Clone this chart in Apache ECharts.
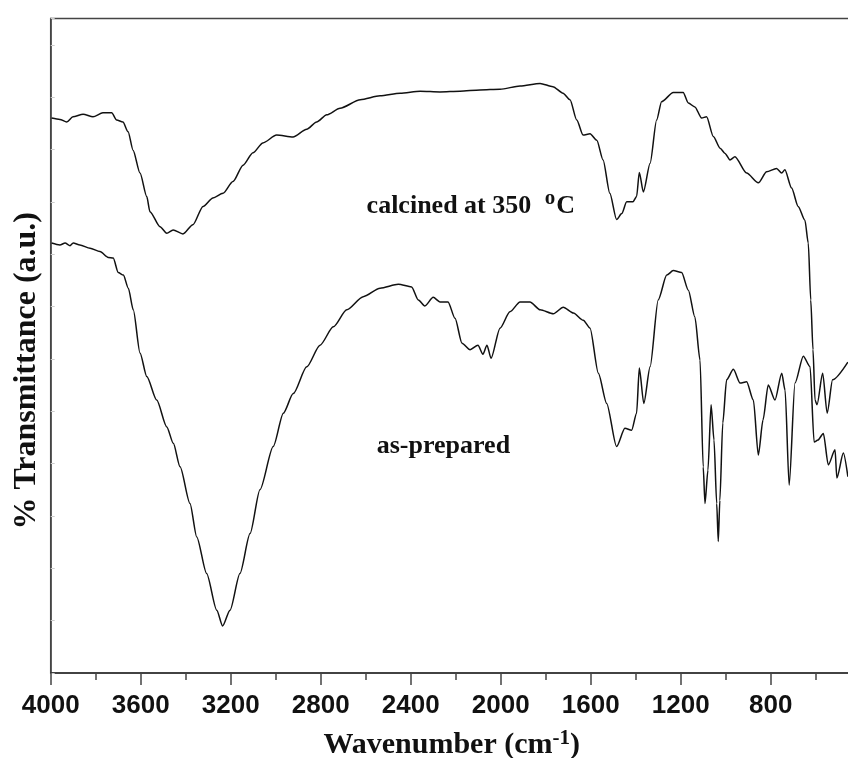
<!DOCTYPE html>
<html>
<head>
<meta charset="utf-8">
<script src="https://cdn.jsdelivr.net/npm/echarts@6/dist/echarts.min.js"></script>
<style>html,body{margin:0;padding:0;background:#fff}#c{width:848px;height:758px}</style>
</head>
<body>
<div id="c"></div>
<script>
// X axis: wavenumber (cm-1), reversed
const xTickValues = [4000, 3600, 3200, 2800, 2400, 2000, 1600, 1200, 800];

// Calcined at 350 °C (upper trace)
const calcinedWn = [3996,3959,3929,3901,3856,3812,3768,3729,3707,3679,3656,3634,3603,3573,3559,3514,3484,3456,3412,3368,3323,3279,3234,3190,3145,3101,3057,2996,2923,2862,2818,2773,2714,2624,2536,2447,2358,2270,2181,2092,2003,1914,1825,1768,1723,1692,1662,1634,1603,1573,1545,1515,1485,1462,1440,1412,1396,1384,1366,1336,1307,1285,1233,1189,1166,1137,1107,1085,1055,1025,1003,981,959,907,855,818,774,751,737,707,678,648,633,622,612,603,594,569,549,525,457];
const calcinedT = [84.8,84.6,84.2,85.0,85.4,85.0,85.6,85.6,84.5,84.2,82.7,79.9,76.4,72.8,70.5,68.2,67.2,67.7,67.1,68.5,71.3,72.6,73.3,75.1,77.6,79.5,81.0,82.2,81.9,83.1,84.2,85.3,86.3,87.6,88.2,88.6,88.9,88.8,88.9,89.1,89.2,89.7,90.1,89.6,88.6,87.6,84.5,82.2,82.4,81.4,78.4,73.3,69.3,70.2,72.0,72.0,72.8,76.5,73.5,77.9,84.5,87.3,88.7,88.7,87.1,86.5,84.8,85.0,82.0,80.2,79.4,78.4,78.9,76.4,74.9,76.6,77.1,76.4,76.9,74.1,71.3,69.2,65.7,57.0,49.4,41.7,41.0,45.8,39.7,44.8,47.5];

// As-prepared (lower trace)
const preparedWn = [3996,3959,3936,3914,3900,3870,3825,3781,3744,3722,3700,3677,3655,3633,3603,3573,3529,3484,3455,3425,3381,3351,3307,3262,3236,3203,3159,3114,3070,3011,2966,2922,2862,2803,2744,2684,2611,2536,2455,2396,2366,2337,2300,2270,2234,2203,2172,2136,2101,2079,2061,2043,2003,1959,1914,1870,1825,1766,1722,1677,1633,1603,1566,1529,1485,1448,1418,1396,1384,1364,1336,1300,1262,1233,1196,1166,1137,1114,1100,1092,1079,1065,1052,1040,1033,1026,1013,996,966,936,907,877,855,834,811,781,751,736,718,692,655,625,607,590,566,544,514,506,477,457];
const preparedT = [65.7,65.4,65.7,65.3,65.7,65.4,64.9,64.4,63.5,63.4,61.2,60.8,58.8,55.5,48.9,45.3,41.7,37.6,35.1,31.5,25.9,20.8,15.2,9.6,7.2,9.6,15.2,21.3,28.0,34.6,39.7,42.7,46.8,50.1,52.9,55.5,57.5,58.8,59.4,59.0,57.0,56.1,57.4,56.7,56.7,54.2,50.4,49.4,50.1,48.7,50.1,48.1,52.7,55.2,56.7,56.7,55.5,54.9,55.9,55.0,53.9,52.7,45.8,41.2,34.6,37.4,37.1,39.7,46.6,41.2,46.8,57.0,60.8,61.5,61.2,58.5,54.4,47.8,31.5,25.9,31.0,41.0,35.6,25.9,20.1,26.4,38.2,44.8,46.4,44.3,44.5,41.7,33.3,38.7,44.0,41.7,45.8,43.2,28.7,44.3,48.4,46.8,35.3,35.6,36.6,31.8,34.1,29.8,33.6,30.0];

// Annotation anchors (data coords: wavenumber, transmittance) — left/middle of text
const calcinedLabelAt = [2596, 71.3];
const preparedLabelAt = [2551, 34.7];

const pairs = (xs, ys) => xs.map((x, i) => [x, ys[i]]);

const chart = echarts.init(document.getElementById('c'));
const lineColor = '#111';
chart.setOption({
  animation: false,
  backgroundColor: '#fff',
  grid: { left: 50.7, top: 18.6, width: 810, height: 654.4, outerBoundsMode: 'none', containLabel: false,
          show: true, borderColor: '#444', borderWidth: 1.5 },
  xAxis: {
    type: 'value', min: 400, max: 4000, interval: 400, inverse: true,
    axisLine: { show: true, onZero: false, lineStyle: { color: '#333', width: 1.5 } },
    axisTick: { show: true, inside: false, length: 12, lineStyle: { color: '#444', width: 1.5 } },
    minorTick: { show: true, splitNumber: 2, length: 7, lineStyle: { color: '#444', width: 1.5 } },
    splitLine: { show: false },
    axisLabel: {
      margin: 20, fontFamily: 'Liberation Sans', fontWeight: 'bold', fontSize: 26, color: '#111',
      formatter: v => xTickValues.indexOf(v) >= 0 ? String(v) : ''
    },
    name: '{a|Wavenumber (cm}{b|-1}{a|)}',
    nameLocation: 'middle', nameGap: 55,
    nameTextStyle: {
      padding: [0, 8, 0, 0],
      rich: {
        a: { fontFamily: 'Liberation Serif', fontWeight: 'bold', fontSize: 30, lineHeight: 34, color: '#111' },
        b: { fontFamily: 'Liberation Serif', fontWeight: 'bold', fontSize: 21, lineHeight: 15, verticalAlign: 'top', color: '#111' }
      }
    }
  },
  yAxis: {
    type: 'value', min: 0, max: 100, interval: 8,
    axisLine: { show: true, lineStyle: { color: '#444', width: 1.5 } },
    axisTick: { show: true, inside: true, length: 4, lineStyle: { color: '#ccc', width: 1 } },
    axisLabel: { show: false },
    splitLine: { show: false },
    name: '% Transmittance (a.u.)',
    nameLocation: 'middle', nameGap: 8,
    nameTextStyle: { fontFamily: 'Liberation Serif', fontWeight: 'bold', fontSize: 32, color: '#111', padding: [0, 50, 0, 0] }
  },
  series: [
    { type: 'line', data: pairs(calcinedWn, calcinedT), showSymbol: false, smooth: 0.25, smoothMonotone: 'x',
      lineStyle: { color: lineColor, width: 1.5 }, clip: true },
    { type: 'line', data: pairs(preparedWn, preparedT), showSymbol: false, smooth: 0.25, smoothMonotone: 'x',
      lineStyle: { color: lineColor, width: 1.5 }, clip: true }
  ]
});

// measure text widths to place superscripts
const mctx = document.createElement('canvas').getContext('2d');
function textW(str, size) { mctx.font = 'bold ' + size + 'px "Liberation Serif"'; return mctx.measureText(str).width; }

const p1 = chart.convertToPixel({ gridIndex: 0 }, calcinedLabelAt);
const p2 = chart.convertToPixel({ gridIndex: 0 }, preparedLabelAt);
const mainTxt = 'calcined at 350 ';
const oX = p1[0] + textW(mainTxt, 26) + 7;
const cX = oX + textW('o', 21) + 1;
const baseStyle = { fontFamily: 'Liberation Serif', fontWeight: 'bold', fill: '#111', verticalAlign: 'middle', align: 'left' };
chart.setOption({
  graphic: [
    { type: 'text', x: p1[0], y: p1[1], style: Object.assign({ text: mainTxt, fontSize: 26 }, baseStyle) },
    { type: 'text', x: oX, y: p1[1] - 8, style: Object.assign({ text: 'o', fontSize: 21 }, baseStyle) },
    { type: 'text', x: cX, y: p1[1], style: Object.assign({ text: 'C', fontSize: 26 }, baseStyle) },
    { type: 'text', x: p2[0], y: p2[1], style: Object.assign({ text: 'as-prepared', fontSize: 26 }, baseStyle) }
  ]
});
</script>
</body>
</html>
